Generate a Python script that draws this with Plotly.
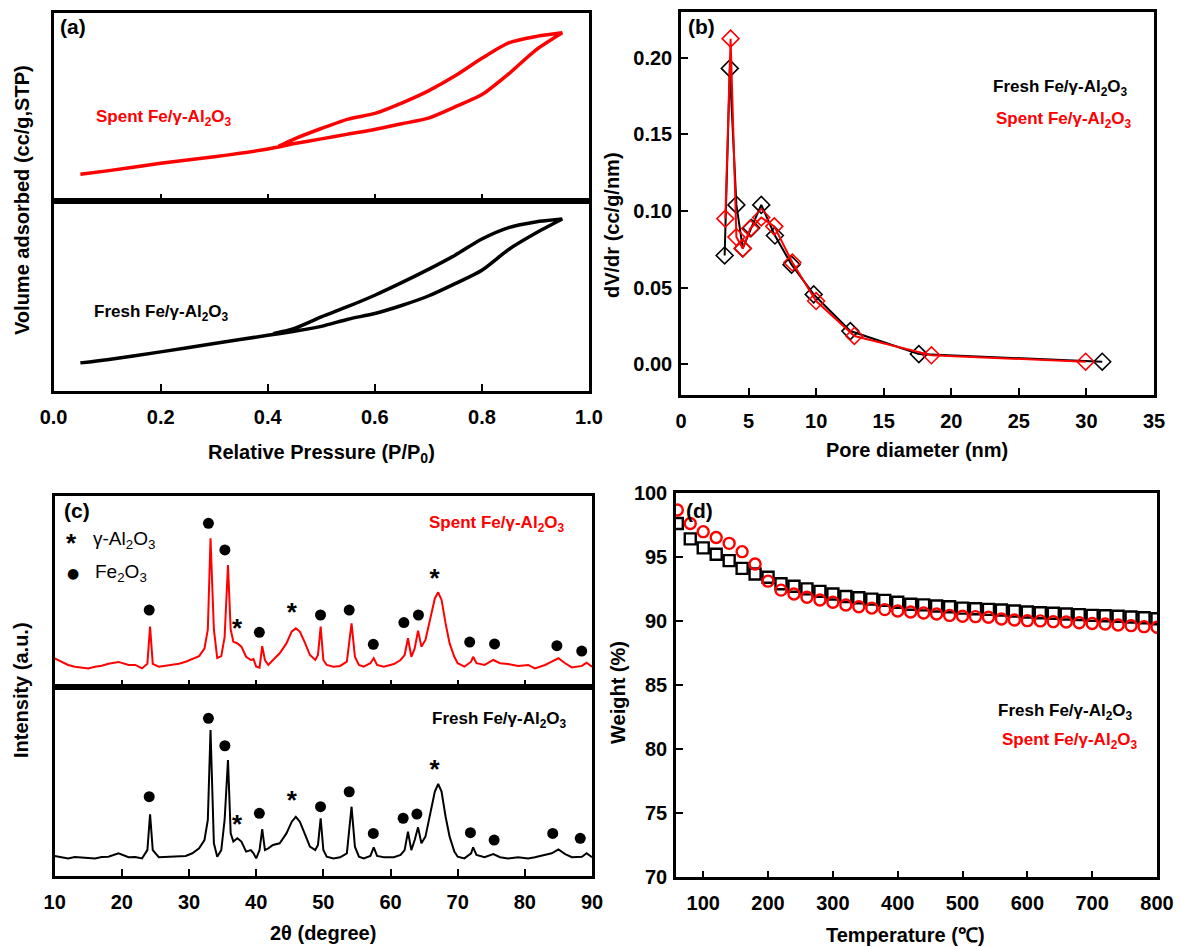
import plotly.graph_objects as go

W, H = 1180, 947
RED = "#ff0000"
BLK = "#000000"

# ---------------- (a) N2 isotherms (relative units within each sub-panel) -------------
a_spent_ads_x = [0.05, 0.1, 0.2, 0.3, 0.4, 0.45, 0.5, 0.55, 0.6, 0.65, 0.7, 0.75, 0.8, 0.85, 0.9, 0.95]
a_spent_ads_y = [0.142, 0.16, 0.20, 0.235, 0.276, 0.305, 0.33, 0.355, 0.38, 0.41, 0.44, 0.50, 0.565, 0.675, 0.80, 0.893]
a_spent_des_x = [0.95, 0.9, 0.85, 0.8, 0.75, 0.7, 0.65, 0.6, 0.55, 0.5, 0.45, 0.42]
a_spent_des_y = [0.893, 0.873, 0.84, 0.758, 0.665, 0.585, 0.52, 0.465, 0.435, 0.385, 0.33, 0.29]
a_fresh_ads_x = [0.05, 0.1, 0.2, 0.3, 0.4, 0.45, 0.5, 0.55, 0.6, 0.65, 0.7, 0.75, 0.8, 0.85, 0.9, 0.95]
a_fresh_ads_y = [0.148, 0.165, 0.206, 0.25, 0.293, 0.315, 0.34, 0.378, 0.408, 0.45, 0.50, 0.565, 0.636, 0.745, 0.83, 0.905]
a_fresh_des_x = [0.95, 0.9, 0.85, 0.8, 0.75, 0.7, 0.65, 0.6, 0.55, 0.5, 0.45, 0.41]
a_fresh_des_y = [0.905, 0.89, 0.86, 0.80, 0.715, 0.64, 0.57, 0.504, 0.445, 0.39, 0.33, 0.302]

# ---------------- (b) pore size distribution -------------
b_fresh_x = [3.23, 3.61, 4.10, 4.57, 5.2, 5.94, 6.95, 8.18, 9.82, 12.53, 17.6, 31.17]
b_fresh_y = [0.071, 0.193, 0.104, 0.0756, 0.089, 0.104, 0.084, 0.065, 0.0456, 0.0217, 0.0067, 0.0017]
b_spent_x = [3.28, 3.67, 4.10, 4.57, 5.12, 5.94, 6.9, 8.24, 10.0, 12.83, 18.53, 29.94]
b_spent_y = [0.095, 0.2124, 0.083, 0.0756, 0.0886, 0.0958, 0.090, 0.0664, 0.0413, 0.0185, 0.0059, 0.0017]

# ---------------- (c) XRD (relative units within each sub-panel) -------------
c_x = [10, 11, 12, 13, 14, 15, 16, 17, 18, 19.5, 21, 22, 23, 23.8, 24.2, 24.6, 25.5, 26.5, 27.5,
       28.5, 29.5, 30.5, 31.5, 32.3, 32.8, 33.2, 33.7, 34.2, 34.8, 35.3, 35.8, 36.2, 36.6, 37.2,
       37.8, 38.5, 39.2, 39.6, 40, 40.5, 40.9, 41.3, 41.8, 42.5, 43.5, 44.5, 45.3, 45.9, 46.5,
       47.3, 48, 48.8, 49.2, 49.6, 50, 50.5, 51.5, 52.5, 53.5, 54.2, 54.7, 55.3, 56, 57, 57.5,
       58, 59, 60.5, 61.5, 62.1, 62.6, 63.1, 63.6, 64.1, 64.6, 65.2, 66, 66.6, 67.1, 67.6, 68.2,
       68.8, 69.5, 70, 71, 72, 72.3, 72.8, 74, 75.3, 76.3, 77.5, 79, 80.5, 81.5, 83, 84, 85, 86,
       87, 88.5, 89.2, 90]
c_spent_y = [0.149, 0.13, 0.114, 0.105, 0.10, 0.096, 0.105, 0.11, 0.12, 0.13, 0.114, 0.114, 0.096,
             0.12, 0.315, 0.12, 0.105, 0.109, 0.114, 0.12, 0.131, 0.145, 0.16, 0.20, 0.30, 0.778,
             0.30, 0.15, 0.16, 0.26, 0.638, 0.30, 0.236, 0.227, 0.21, 0.157, 0.14, 0.145, 0.105,
             0.10, 0.213, 0.14, 0.114, 0.14, 0.175, 0.227, 0.29, 0.306, 0.289, 0.227, 0.166, 0.14,
             0.166, 0.315, 0.14, 0.114, 0.105, 0.109, 0.131, 0.332, 0.157, 0.114, 0.105, 0.123,
             0.149, 0.114, 0.105, 0.119, 0.14, 0.166, 0.254, 0.157, 0.201, 0.294, 0.21, 0.245,
             0.367, 0.463, 0.495, 0.455, 0.332, 0.227, 0.157, 0.123, 0.105, 0.131, 0.157, 0.123,
             0.114, 0.14, 0.123, 0.119, 0.109, 0.114, 0.096, 0.114, 0.131, 0.149, 0.123, 0.101,
             0.109, 0.126, 0.105]
c_fresh_y = [0.106, 0.10, 0.093, 0.10, 0.099, 0.095, 0.093, 0.10, 0.102, 0.12, 0.099, 0.10, 0.093,
             0.137, 0.326, 0.137, 0.099, 0.10, 0.102, 0.104, 0.106, 0.12, 0.146, 0.19, 0.296, 0.771,
             0.173, 0.102, 0.137, 0.296, 0.613, 0.225, 0.182, 0.199, 0.182, 0.129, 0.137, 0.12,
             0.093, 0.137, 0.247, 0.137, 0.146, 0.164, 0.173, 0.225, 0.287, 0.313, 0.287, 0.217,
             0.155, 0.137, 0.164, 0.305, 0.137, 0.102, 0.093, 0.099, 0.12, 0.366, 0.155, 0.102,
             0.093, 0.106, 0.151, 0.106, 0.099, 0.099, 0.111, 0.137, 0.234, 0.137, 0.19, 0.257,
             0.173, 0.208, 0.349, 0.446, 0.486, 0.446, 0.313, 0.208, 0.129, 0.102, 0.093, 0.12,
             0.151, 0.111, 0.099, 0.116, 0.099, 0.093, 0.099, 0.093, 0.099, 0.111, 0.12, 0.14,
             0.116, 0.099, 0.102, 0.12, 0.099]
# phase marks
c_spent_dot_x = [24.07, 32.89, 35.34, 40.47, 49.58, 53.85, 57.44, 61.99, 64.16, 71.79, 75.49, 84.77, 88.47]
c_spent_dot_y = [0.402, 0.857, 0.717, 0.285, 0.376, 0.402, 0.222, 0.336, 0.376, 0.234, 0.224, 0.215, 0.187]
c_spent_ast_x = [37.16, 45.31, 66.55]
c_spent_ast_y = [0.323, 0.411, 0.586]
c_fresh_dot_x = [24.07, 32.89, 35.34, 40.47, 49.58, 53.85, 57.44, 61.88, 63.93, 71.90, 75.43, 84.15, 88.25]
c_fresh_dot_y = [0.419, 0.833, 0.688, 0.331, 0.366, 0.445, 0.225, 0.305, 0.327, 0.229, 0.19, 0.225, 0.199]
c_fresh_ast_x = [37.16, 45.31, 66.55]
c_fresh_ast_y = [0.29, 0.419, 0.581]

# ---------------- (d) TGA -------------
d_T = [60, 80, 100, 120, 140, 160, 180, 200, 220, 240, 260, 280, 300, 320, 340, 360, 380, 400,
       420, 440, 460, 480, 500, 520, 540, 560, 580, 600, 620, 640, 660, 680, 700, 720, 740, 760,
       780, 800]
d_fresh = [97.6, 96.4, 95.7, 95.2, 94.7, 94.1, 93.66, 93.4, 92.9, 92.7, 92.5, 92.3, 92.1, 91.9,
           91.8, 91.7, 91.6, 91.45, 91.3, 91.25, 91.16, 91.1, 91.0, 90.95, 90.9, 90.85, 90.77,
           90.7, 90.64, 90.6, 90.54, 90.49, 90.43, 90.4, 90.36, 90.3, 90.25, 90.17]
d_spent = [98.65, 97.6, 96.96, 96.5, 96.05, 95.4, 94.44, 93.1, 92.4, 92.1, 91.84, 91.63, 91.45,
           91.24, 91.1, 91.0, 90.88, 90.77, 90.7, 90.62, 90.54, 90.43, 90.36, 90.33, 90.28,
           90.15, 90.07, 90.02, 90.0, 89.94, 89.91, 89.86, 89.8, 89.76, 89.68, 89.63, 89.55, 89.5]

SAMPLE = "Fe/γ-Al<sub>2</sub>O<sub>3</sub>"

def px(x):
    return x / W

def py(y):
    return 1 - y / H

fig = go.Figure()

# (a)
fig.add_trace(go.Scatter(x=a_spent_ads_x + a_spent_des_x, y=a_spent_ads_y + a_spent_des_y,
                         mode="lines", line=dict(color=RED, width=3.5, shape="spline", smoothing=0.7),
                         xaxis="x", yaxis="y"))
fig.add_trace(go.Scatter(x=a_fresh_ads_x + a_fresh_des_x, y=a_fresh_ads_y + a_fresh_des_y,
                         mode="lines", line=dict(color=BLK, width=3.5, shape="spline", smoothing=0.7),
                         xaxis="x2", yaxis="y2"))
# (b)
fig.add_trace(go.Scatter(x=b_fresh_x, y=b_fresh_y, mode="lines+markers",
                         line=dict(color=BLK, width=2),
                         marker=dict(symbol="diamond-open", size=13, color=BLK, line=dict(width=1.6)),
                         xaxis="x3", yaxis="y3"))
fig.add_trace(go.Scatter(x=b_spent_x, y=b_spent_y, mode="lines+markers",
                         line=dict(color=RED, width=2),
                         marker=dict(symbol="diamond-open", size=13, color=RED, line=dict(width=1.6)),
                         xaxis="x3", yaxis="y3"))
# (c)
fig.add_trace(go.Scatter(x=c_x, y=c_spent_y, mode="lines", line=dict(color=RED, width=2),
                         xaxis="x4", yaxis="y4"))
fig.add_trace(go.Scatter(x=c_x, y=c_fresh_y, mode="lines", line=dict(color=BLK, width=2),
                         xaxis="x5", yaxis="y5"))
fig.add_trace(go.Scatter(x=c_spent_dot_x, y=c_spent_dot_y, mode="markers",
                         marker=dict(symbol="circle", size=11, color=BLK), xaxis="x4", yaxis="y4"))
fig.add_trace(go.Scatter(x=c_fresh_dot_x, y=c_fresh_dot_y, mode="markers",
                         marker=dict(symbol="circle", size=11, color=BLK), xaxis="x5", yaxis="y5"))
ast_font = dict(family="Liberation Sans, Arial", size=26, color=BLK, weight="bold")
fig.add_trace(go.Scatter(x=c_spent_ast_x, y=[v - 0.03 for v in c_spent_ast_y], mode="text",
                         text=["*"] * len(c_spent_ast_x), textfont=ast_font,
                         textposition="middle center", xaxis="x4", yaxis="y4"))
fig.add_trace(go.Scatter(x=c_fresh_ast_x, y=[v - 0.03 for v in c_fresh_ast_y], mode="text",
                         text=["*"] * len(c_fresh_ast_x), textfont=ast_font,
                         textposition="middle center", xaxis="x5", yaxis="y5"))
# (d)
fig.add_trace(go.Scatter(x=d_T, y=d_fresh, mode="markers",
                         marker=dict(symbol="square-open", size=11, color=BLK, line=dict(width=2.4)),
                         xaxis="x6", yaxis="y6"))
fig.add_trace(go.Scatter(x=d_T, y=d_spent, mode="markers",
                         marker=dict(symbol="circle-open", size=11, color=RED, line=dict(width=2.4)),
                         xaxis="x6", yaxis="y6"))

tickfont = dict(family="Liberation Sans, Arial", size=20, color=BLK, weight="bold")
frame = dict(showline=True, linecolor=BLK, linewidth=2.5, mirror=True, showgrid=False,
             zeroline=False, ticks="inside", ticklen=7, tickwidth=2, tickcolor=BLK, tickfont=tickfont,
             automargin=False)

dom_a_x = [px(53.6), px(589)]
dom_c_x = [px(54.7), px(592)]
layout = dict(
    width=W, height=H, margin=dict(l=0, r=0, t=0, b=0, autoexpand=False),
    paper_bgcolor="white", plot_bgcolor="white", showlegend=False,
    # (a) top
    xaxis=dict(frame, domain=dom_a_x, anchor="y", range=[0, 1],
               tickvals=[0.2, 0.4, 0.6, 0.8], showticklabels=False),
    yaxis=dict(frame, domain=[py(201), py(12.7)], anchor="x", range=[0, 1], ticks="",
               showticklabels=False),
    # (a) bottom
    xaxis2=dict(frame, domain=dom_a_x, anchor="y2", range=[0, 1], tickvals=[0, 0.2, 0.4, 0.6, 0.8, 1.0],
                tickformat=".1f", ticklabelstandoff=6),
    yaxis2=dict(frame, domain=[py(391), py(201)], anchor="x2", range=[0, 1], ticks="",
                showticklabels=False),
    # (b)
    xaxis3=dict(frame, domain=[px(681), px(1154)], anchor="y3", range=[0, 35], dtick=5,
                ticklabelstandoff=6),
    yaxis3=dict(frame, domain=[py(395), py(12)], anchor="x3", range=[-0.02, 0.2298], dtick=0.05,
                tickformat=".2f", ticklabelstandoff=2),
    # (c) top
    xaxis4=dict(frame, domain=dom_c_x, anchor="y4", range=[10, 90],
                tickvals=[20, 30, 40, 50, 60, 70, 80], showticklabels=False),
    yaxis4=dict(frame, domain=[py(686.7), py(496)], anchor="x4", range=[0, 1], ticks="",
                showticklabels=False),
    # (c) bottom
    xaxis5=dict(frame, domain=dom_c_x, anchor="y5", range=[10, 90], dtick=10, ticklabelstandoff=6),
    yaxis5=dict(frame, domain=[py(876), py(686.7)], anchor="x5", range=[0, 1], ticks="",
                showticklabels=False),
    # (d)
    xaxis6=dict(frame, domain=[px(676), px(1157)], anchor="y6", range=[58, 800],
                tickvals=[100, 200, 300, 400, 500, 600, 700, 800], ticklabelstandoff=6),
    yaxis6=dict(frame, domain=[py(877.3), py(492.7)], anchor="x6", range=[70, 100], dtick=5,
                ticklabelstandoff=2),
)
fig.update_layout(**layout)

lab_font = dict(family="Liberation Sans Narrow, Arial Narrow, Liberation Sans", size=17, weight="bold")
title_font = dict(family="Liberation Sans, Arial", size=20, color=BLK, weight="bold")

ann = []
def add_text(x, y, text, font, angle=0, xanchor="center"):
    ann.append(dict(x=px(x), y=py(y), xref="paper", yref="paper", text=text, showarrow=False,
                    font=font, textangle=angle, xanchor=xanchor, yanchor="middle"))

# panel letters
letter_font = dict(family="Liberation Sans, Arial", size=21, color=BLK, weight="bold")
add_text(58, 26, "(a)", letter_font, xanchor="left")
add_text(686, 26, "(b)", letter_font, xanchor="left")
add_text(62, 510, "(c)", letter_font, xanchor="left")
add_text(684, 510, "(d)", letter_font, xanchor="left")

# axis titles
add_text(321, 453, "Relative Pressure (P/P<sub>0</sub>)", title_font)
add_text(22, 200, "Volume adsorbed (cc/g,STP)", title_font, angle=-90)
add_text(917, 450, "Pore diameter (nm)", title_font)
add_text(612, 225, "dV/dr (cc/g/nm)", title_font, angle=-90)
add_text(323, 933, "2θ (degree)", title_font)
add_text(21, 690, "Intensity (a.u.)", title_font, angle=-90)
add_text(905, 935, "Temperature (℃)", title_font)
add_text(618, 693, "Weight (%)", title_font, angle=-90)

# sample labels
add_text(94, 118, "Spent " + SAMPLE, dict(lab_font, color=RED), xanchor="left")
add_text(92, 313, "Fresh " + SAMPLE, dict(lab_font, color=BLK), xanchor="left")
add_text(991, 88, "Fresh " + SAMPLE, dict(lab_font, color=BLK), xanchor="left")
add_text(994, 120, "Spent " + SAMPLE, dict(lab_font, color=RED), xanchor="left")
add_text(427, 524, "Spent " + SAMPLE, dict(lab_font, color=RED), xanchor="left")
add_text(430, 720, "Fresh " + SAMPLE, dict(lab_font, color=BLK), xanchor="left")
add_text(996, 712, "Fresh " + SAMPLE, dict(lab_font, color=BLK), xanchor="left")
add_text(1000, 741, "Spent " + SAMPLE, dict(lab_font, color=RED), xanchor="left")

# (c) phase legend
leg_font = dict(family="Liberation Sans, Arial", size=19, color=BLK)
add_text(71, 543, "<b>*</b>", dict(family="Liberation Sans, Arial", size=26, color=BLK))
add_text(91, 540, "γ-Al<sub>2</sub>O<sub>3</sub>", leg_font, xanchor="left")
add_text(72.7, 573, "●", dict(family="DejaVu Sans", size=14, color=BLK))
add_text(93, 573, "Fe<sub>2</sub>O<sub>3</sub>", leg_font, xanchor="left")

fig.update_layout(annotations=ann)
fig.write_html("out.html", config={"displayModeBar": False},
               post_script="document.body.style.margin='0px';document.body.style.overflow='hidden';")
